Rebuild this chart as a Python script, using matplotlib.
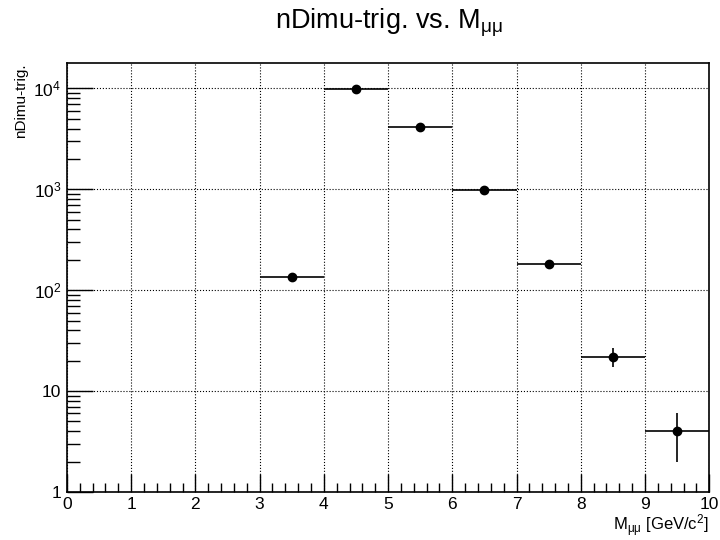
import matplotlib
matplotlib.use('Agg')
import matplotlib.pyplot as plt
import numpy as np
from matplotlib.ticker import FixedLocator, MultipleLocator, NullFormatter

plt.rcParams['font.family'] = ['Liberation Sans', 'DejaVu Sans']
plt.rcParams['mathtext.fontset'] = 'custom'
plt.rcParams['mathtext.rm'] = 'Liberation Sans'
plt.rcParams['mathtext.it'] = 'Liberation Sans:italic'

# histogram contents
bin_lo = [3, 4, 5, 6, 7, 8, 9]
bin_hi = [4, 5, 6, 7, 8, 9, 10]
counts = [134, 9800, 4150, 990, 182, 22, 4]

centers = (np.array(bin_lo) + np.array(bin_hi)) / 2.0
half_w = (np.array(bin_hi) - np.array(bin_lo)) / 2.0
errs = np.sqrt(counts)

fig = plt.figure(figsize=(7.2, 5.4), dpi=100)
ax = fig.add_axes([0.093, 0.089, 0.892, 0.794])

ax.errorbar(centers, counts, xerr=half_w, yerr=errs, fmt='o', color='black',
            ms=6, elinewidth=1.2, capsize=0, zorder=3)

ax.set_yscale('log')
ax.set_xlim(0, 10)
ax.set_ylim(1, 1.78e4)

ax.xaxis.set_major_locator(MultipleLocator(1))
ax.xaxis.set_minor_locator(MultipleLocator(0.2))
ax.yaxis.set_major_locator(FixedLocator([1, 10, 100, 1000, 10000]))
ax.yaxis.set_minor_locator(FixedLocator([m * 10 ** e for e in range(0, 5) for m in range(2, 10)]))
ax.yaxis.set_minor_formatter(NullFormatter())
ax.set_yticklabels(['1', '10', r'$10^{2}$', r'$10^{3}$', r'$10^{4}$'])

ax.tick_params(axis='x', which='major', direction='in', length=13, width=1, labelsize=12.5, pad=4)
ax.tick_params(axis='x', which='minor', direction='in', length=6.5, width=1)
ax.tick_params(axis='y', which='major', direction='in', length=19, width=1, labelsize=12.5, pad=4)
ax.tick_params(axis='y', which='minor', direction='in', length=9.5, width=1)

ax.grid(True, which='major', color='black', linestyle=':', linewidth=0.8)
for s in ax.spines.values():
    s.set_linewidth(1.2)

fig.text(0.54, 0.958, r'nDimu-trig. vs. M$_{\mathregular{μμ}}$', ha='center', va='center', fontsize=19.5)
ax.set_ylabel('nDimu-trig.', fontsize=11, loc='top')
ax.set_xlabel(r'M$_{\mathregular{μμ}}$ [GeV/c$^{2}$]', fontsize=12, loc='right', labelpad=0)

fig.savefig('out.png', dpi=100)
